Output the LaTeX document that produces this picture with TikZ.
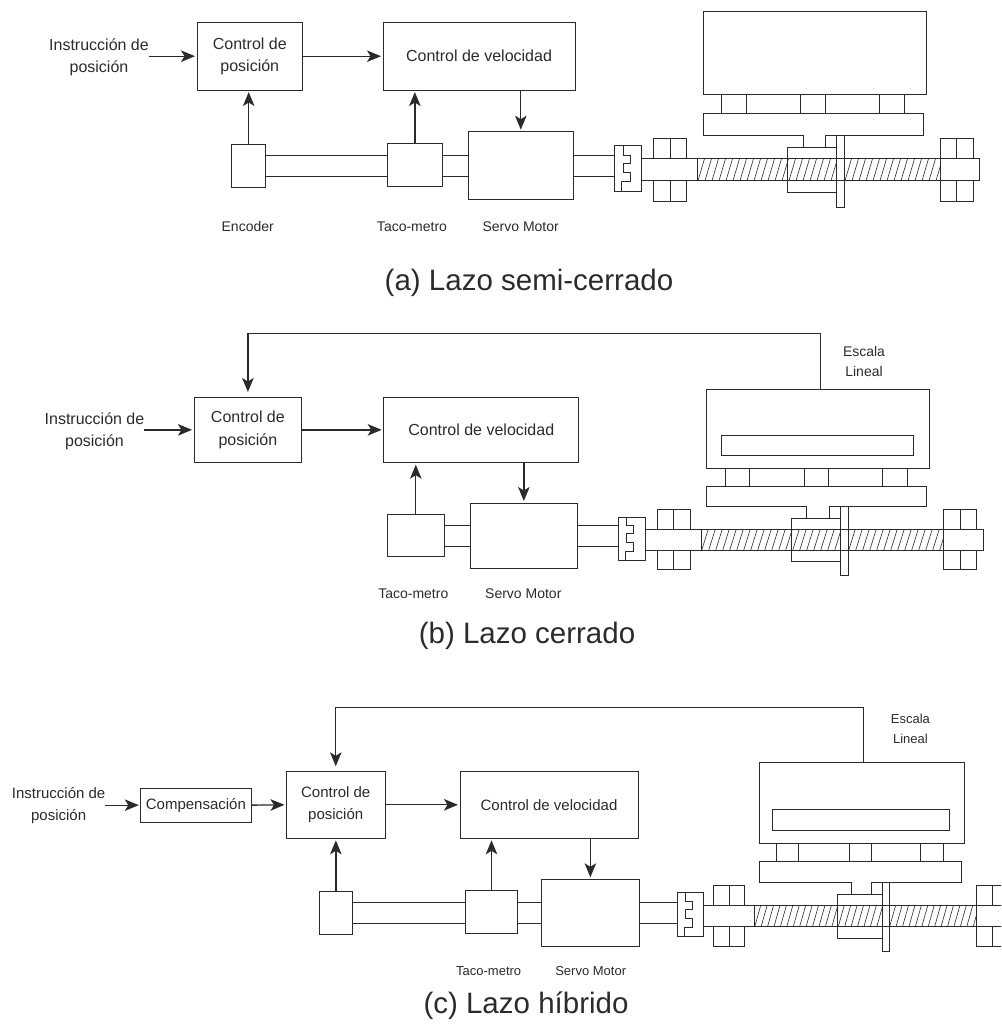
\documentclass[tikz,border=0pt]{standalone}
\usepackage{fontspec}
\usepackage{xcolor}
\usepackage{tikz}
\setmainfont{Liberation Sans}
\usetikzlibrary{arrows.meta}
\definecolor{inkline}{HTML}{2B2B2B}
\tikzset{
  blockbox/.style={draw=inkline,line width=0.95pt,inner sep=0pt,outer sep=0pt,align=center,text=inkline},
  plainlabel/.style={inner sep=0pt,outer sep=0pt,align=center,text=inkline},
  bodyfont/.style={font=\fontsize{16}{22.3}\selectfont},
  bodyfontc/.style={font=\fontsize{15}{22.3}\selectfont},
  smallfont/.style={font=\fontsize{14}{20}\selectfont},
  smallfontc/.style={font=\fontsize{13}{20}\selectfont},
  captionfont/.style={font=\fontsize{29.5}{32}\selectfont},
  partline/.style={draw=inkline,line width=0.95pt},
  signalline/.style={draw=inkline,line width=1.3pt,-{Stealth[length=14pt,width=11.5pt,inset=3.5pt]},shorten >=2pt},
}
% table, carriage, coupling and screw; origin on the screw axis below the table's left side
\newcommand{\ballscrew}[1]{
  \coordinate (#1) at (-88.7,0);
  \draw[partline] (18.3,-75.7) rectangle (43,-56.7);
  \draw[partline] (97.7,-75.7) rectangle (122,-56.7);
  \draw[partline] (176,-75.7) rectangle (201,-56.7);
  \draw[partline] (0,-56.7)--(220,-56.7)--(220,-34.7)--(122.7,-34.7)--(122.7,-22.7)--(100,-22.7)--(100,-34.7)--(0,-34.7)--cycle;
  \draw[partline] (-61.3,-11) rectangle (276.7,11);
  \begin{scope}
    \clip (-5.7,-11) rectangle (237,11);
    \foreach \hx in {-12,-5,...,240}
      \draw[inkline,line width=0.6pt] (\hx,11)--({\hx+6.5},-11);
  \end{scope}
  \draw[partline] (-5.7,-11) rectangle (237,11);
  \draw[partline] (84.7,-22.7) rectangle (134,23);
  \draw[partline,fill=white] (133.7,-34.7) rectangle (141.7,37.3);
  \draw[partline] (133.7,-11)--(141.7,-11);
  \draw[partline] (133.7,11)--(141.7,11);
  \draw[partline] (-49.7,-31.7) rectangle (-16.3,-11);
  \draw[partline] (-49.7,11) rectangle (-16.3,31.3);
  \draw[partline] (-33,-31.7)--(-33,-11);
  \draw[partline] (-33,11)--(-33,31.3);
  \draw[partline] (237,-31.7) rectangle (270,-11);
  \draw[partline] (237,11) rectangle (270,31.3);
  \draw[partline] (253.7,-31.7)--(253.7,-11);
  \draw[partline] (253.7,11)--(253.7,31.3);
  \draw[partline,fill=white] (-88.7,-24) rectangle (-61.3,21.3);
  \draw[partline] (-80,-24)--(-80,-14.7)--(-73,-14.7)--(-73,-6.7)--(-80,-6.7)--(-80,3)--(-73,3)--(-73,12)--(-81.3,12)--(-81.3,21.3);
}
\begin{document}
\begin{tikzpicture}[x=1pt,y=-1pt]
  \useasboundingbox (0,0) rectangle (1001,1024);
  \clip (0,0) rectangle (1001,1024);
  % (a)
  \coordinate (upA) at (0,155);
  \coordinate (loA) at (0,176);
  \node[plainlabel,bodyfont] (instA) at (99,57.2) {Instrucción de\\posición};
  \node[blockbox,bodyfont,minimum width=105.6pt,minimum height=67.7pt] (posA) at (249.8,56.2) {Control de\\posición};
  \node[blockbox,bodyfont,minimum width=192pt,minimum height=67.7pt] (velA) at (479,56.2) {Control de velocidad};
  \node[blockbox,minimum width=34pt,minimum height=43.3pt] (encA) at (248.7,165.7) {};
  \node[blockbox,minimum width=55.7pt,minimum height=43.3pt] (tacoA) at (414.85,164.65) {};
  \node[blockbox,minimum width=105pt,minimum height=67.3pt] (motorA) at (520.8,165.35) {};
  \node[blockbox,minimum width=223pt,minimum height=83pt] (tableA) at (814.5,52.5) {};
  \begin{scope}[shift={(703,169.7)}]
    \ballscrew{cplA}
  \end{scope}
  \draw[partline] (encA.east |- upA)--(tacoA.west |- upA);
  \draw[partline] (encA.east |- loA)--(tacoA.west |- loA);
  \draw[partline] (tacoA.east |- upA)--(motorA.west |- upA);
  \draw[partline] (tacoA.east |- loA)--(motorA.west |- loA);
  \draw[partline] (motorA.east |- upA)--(cplA |- upA);
  \draw[partline] (motorA.east |- loA)--(cplA |- loA);
  \draw[signalline] (instA.east |- posA.west)--(posA.west);
  \draw[signalline] (posA.east)--(velA.west);
  \draw[signalline] (encA.north)--(encA.north |- posA.south);
  \draw[signalline] (tacoA.north)--(tacoA.north |- velA.south);
  \draw[signalline] (motorA.north |- velA.south)--(motorA.north);
  \node[plainlabel,smallfont] (encTextA) at (247.7,226.7) {Encoder};
  \node[plainlabel,smallfont] (tacoTextA) at (412,226.7) {Taco-metro};
  \node[plainlabel,smallfont] (motorTextA) at (520.7,226.7) {Servo Motor};
  \node[plainlabel,captionfont] (capA) at (529,283) {(a) Lazo semi-cerrado};
  % (b)
  \coordinate (upB) at (0,525.7);
  \coordinate (loB) at (0,546.3);
  \coordinate (fbB) at (820.7,333.7);
  \node[plainlabel,bodyfont] (instB) at (94.5,431) {Instrucción de\\posición};
  \node[blockbox,bodyfont,minimum width=107.8pt,minimum height=65.7pt] (posB) at (247.9,429.85) {Control de\\posición};
  \node[blockbox,bodyfont,minimum width=195.1pt,minimum height=65.7pt] (velB) at (481.25,429.85) {Control de velocidad};
  \node[blockbox,minimum width=57pt,minimum height=42.3pt] (tacoB) at (415.8,535.15) {};
  \node[blockbox,minimum width=107.7pt,minimum height=65.7pt] (motorB) at (523.85,535.85) {};
  \node[blockbox,minimum width=223pt,minimum height=79.3pt] (tableB) at (818.2,428.65) {};
  \node[blockbox,minimum width=192.7pt,minimum height=20.7pt] (windowB) at (817.35,445.35) {};
  \begin{scope}[shift={(706.7,539.8)},yscale=0.947]
    \ballscrew{cplB}
  \end{scope}
  \draw[partline] (tacoB.east |- upB)--(motorB.west |- upB);
  \draw[partline] (tacoB.east |- loB)--(motorB.west |- loB);
  \draw[partline] (motorB.east |- upB)--(cplB |- upB);
  \draw[partline] (motorB.east |- loB)--(cplB |- loB);
  \draw[signalline] (instB.east |- posB.west)--(posB.west);
  \draw[signalline] (posB.east)--(velB.west);
  \draw[signalline] (tacoB.north)--(tacoB.north |- velB.south);
  \draw[signalline] (motorB.north |- velB.south)--(motorB.north);
  \draw[signalline,shorten >=5pt] (fbB |- tableB.north)--(fbB)--(fbB -| posB.north)--(posB.north);
  \node[plainlabel,smallfont] (scaleTextB) at (864,361) {Escala\\Lineal};
  \node[plainlabel,smallfont] (tacoTextB) at (413.3,594) {Taco-metro};
  \node[plainlabel,smallfont] (motorTextB) at (523.3,594) {Servo Motor};
  \node[plainlabel,captionfont] (capB) at (527,636) {(b) Lazo cerrado};
  % (c)
  \coordinate (upC) at (0,902.3);
  \coordinate (loC) at (0,923);
  \coordinate (fbC) at (863.5,707.3);
  \node[plainlabel,bodyfontc] (instC) at (58.6,805.3) {Instrucción de\\posición};
  \node[blockbox,bodyfontc,minimum width=110.2pt,minimum height=34.3pt] (compC) at (195.9,805.15) {Compensación};
  \node[blockbox,bodyfontc,minimum width=98.5pt,minimum height=67pt] (posC) at (335.75,804.8) {Control de\\posición};
  \node[blockbox,bodyfontc,minimum width=178pt,minimum height=67pt] (velC) at (549,804.8) {Control de velocidad};
  \node[blockbox,minimum width=32.3pt,minimum height=43pt] (encC) at (335.85,912.8) {};
  \node[blockbox,minimum width=52.4pt,minimum height=42.6pt] (tacoC) at (491.5,912) {};
  \node[blockbox,minimum width=98.7pt,minimum height=67pt] (motorC) at (590.35,912.8) {};
  \node[blockbox,minimum width=204.7pt,minimum height=80.6pt] (tableC) at (861.65,803) {};
  \node[blockbox,minimum width=177pt,minimum height=21pt] (windowC) at (860.8,819.8) {};
  \begin{scope}[shift={(759.3,916)},xscale=0.918,yscale=0.96]
    \ballscrew{cplC}
  \end{scope}
  \draw[partline] (encC.east |- upC)--(tacoC.west |- upC);
  \draw[partline] (encC.east |- loC)--(tacoC.west |- loC);
  \draw[partline] (tacoC.east |- upC)--(motorC.west |- upC);
  \draw[partline] (tacoC.east |- loC)--(motorC.west |- loC);
  \draw[partline] (motorC.east |- upC)--(cplC |- upC);
  \draw[partline] (motorC.east |- loC)--(cplC |- loC);
  \draw[signalline] (instC.east |- compC.west)--(compC.west);
  \draw[signalline] (compC.east)--(posC.west);
  \draw[signalline] (posC.east)--(velC.west);
  \draw[signalline] (encC.north)--(encC.north |- posC.south);
  \draw[signalline] (tacoC.north)--(tacoC.north |- velC.south);
  \draw[signalline] (motorC.north |- velC.south)--(motorC.north);
  \draw[signalline,shorten >=5pt] (fbC |- tableC.north)--(fbC)--(fbC -| posC.north)--(posC.north);
  \node[plainlabel,smallfontc] (scaleTextC) at (910.4,728.4) {Escala\\Lineal};
  \node[plainlabel,smallfontc] (tacoTextC) at (488.7,971) {Taco-metro};
  \node[plainlabel,smallfontc] (motorTextC) at (590.7,971) {Servo Motor};
  \node[plainlabel,captionfont] (capC) at (526,1006) {(c) Lazo híbrido};
\end{tikzpicture}
\end{document}
